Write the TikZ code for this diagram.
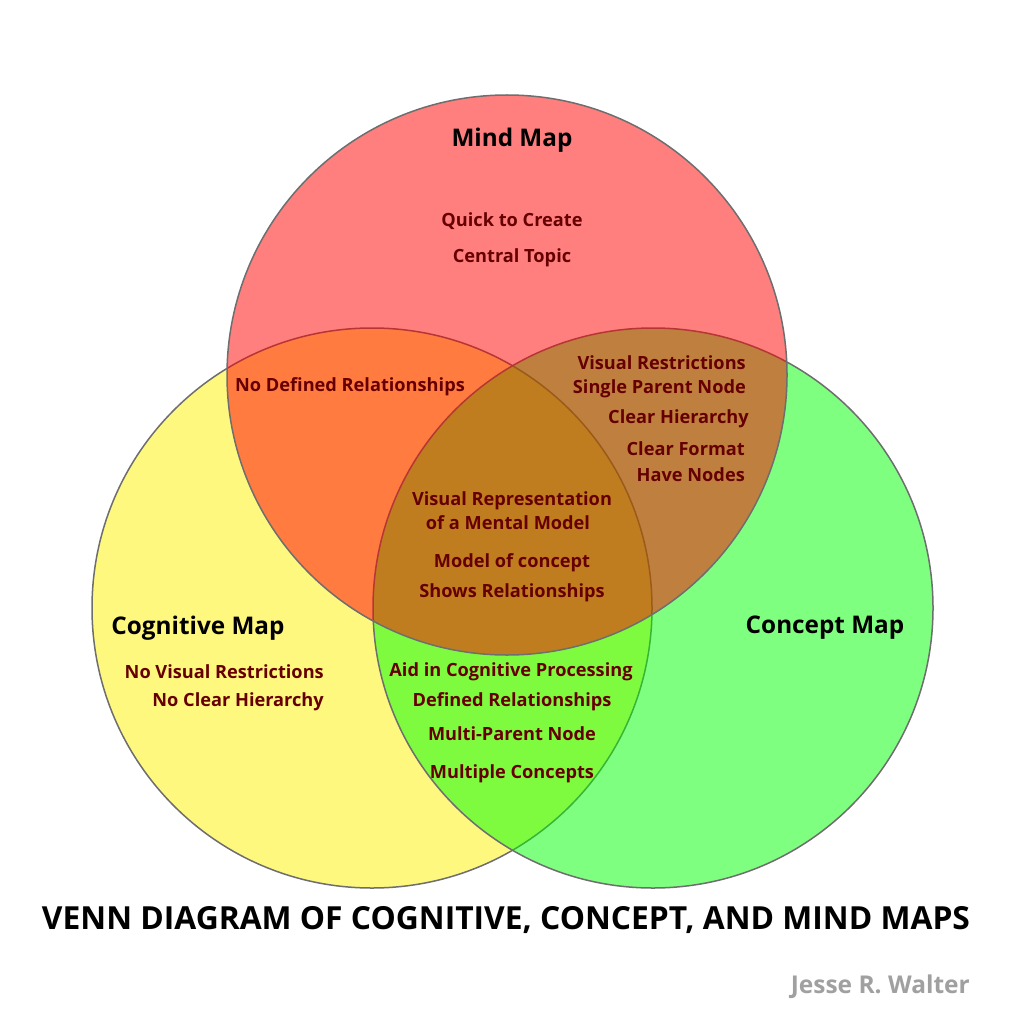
\documentclass[tikz,border=0pt]{standalone}
\usepackage{fontspec}
\setmainfont{Open Sans}
\definecolor{txtred}{RGB}{102,0,0}
\definecolor{rimgray}{RGB}{110,110,110}
\definecolor{signgray}{RGB}{160,160,160}
\tikzset{
  setc/.style={circle, minimum size=560pt, inner sep=0pt, fill opacity=0.5, draw=rimgray, line width=1.5pt},
  item/.style={text=txtred, font=\bfseries\fontsize{18.2}{20}\selectfont, inner sep=0pt, yshift=-2pt},
  head/.style={text=black, font=\bfseries\fontsize{24.3}{26}\selectfont, inner sep=0pt, yshift=-2pt},
}
\begin{document}
\begin{tikzpicture}[x=1pt,y=-1pt]
\useasboundingbox (0,0) rectangle (1024,1024);
\fill[white] (0,0) rectangle (1024,1024);
\node[setc, fill=yellow] (cog) at (372,608) {};
\node[setc, fill=green] (con) at (653,608) {};
\node[setc, fill=red] (mind) at (507,375) {};
% headings
\node[head] (hmind) at (512,138) {Mind Map};
\node[head] (hcog) at (198,626) {Cognitive Map};
\node[head] (hcon) at (825,626) {Concept Map};
% mind only
\node[item] (m1) at (512,219) {Quick to Create};
\node[item] (m2) at (512,256) {Central Topic};
% mind & cognitive
\node[item] (mc1) at (350,385) {No Defined Relationships};
% mind & concept
\node[item, anchor=east] (mk1) at (746,361) {Visual Restrictions};
\node[item, anchor=east] (mk2) at (746,387) {Single Parent Node};
\node[item, anchor=east] (mk3) at (749,417) {Clear Hierarchy};
\node[item, anchor=east] (mk4) at (745,447) {Clear Format};
\node[item, anchor=east] (mk5) at (745,473) {Have Nodes};
% all three
\node[item] (a1) at (512,499) {Visual Representation};
\node[item] (a2) at (508,521) {of a Mental Model};
\node[item] (a3) at (512,561) {Model of concept};
\node[item] (a4) at (512,591) {Shows Relationships};
% cognitive only
\node[item, anchor=east] (c1) at (324,670) {No Visual Restrictions};
\node[item, anchor=east] (c2) at (324,700) {No Clear Hierarchy};
% cognitive & concept
\node[item] (ck1) at (511,670) {Aid in Cognitive Processing};
\node[item] (ck2) at (512,700) {Defined Relationships};
\node[item] (ck3) at (512,732) {Multi-Parent Node};
\node[item] (ck4) at (512,772) {Multiple Concepts};
% title and signature
\node[inner sep=0pt, font=\bfseries\fontsize{26}{28}\selectfont, text=black] (title) at (506,920) {\resizebox{928pt}{!}{VENN DIAGRAM OF COGNITIVE, CONCEPT, AND MIND MAPS}};
\node[inner sep=0pt, anchor=east, font=\bfseries\fontsize{24.5}{26}\selectfont, text=signgray] (sign) at (970,987) {Jesse R. Walter};
\end{tikzpicture}
\end{document}
